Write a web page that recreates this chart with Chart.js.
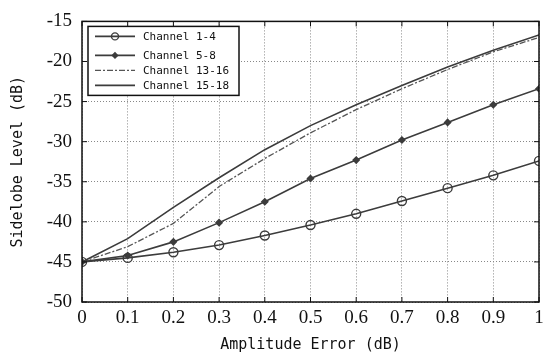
<!DOCTYPE html>
<html>
<head>
<meta charset="utf-8">
<script src="https://cdn.jsdelivr.net/npm/chart.js@4/dist/chart.umd.min.js"></script>
<style>
  html, body { margin:0; padding:0; background:#fff; }
  #wrap { width:550px; height:358px; position:relative; }
</style>
</head>
<body>
<div id="wrap"><canvas id="c"></canvas></div>
<script>
// amplitude error (dB) on x, sidelobe level (dB) on y
const errors = [0, 0.1, 0.2, 0.3, 0.4, 0.5, 0.6, 0.7, 0.8, 0.9, 1]
const xTickLabels = ['0','0.1','0.2','0.3','0.4','0.5','0.6','0.7','0.8','0.9','1']
const yTickLabels = ['-50','-45','-40','-35','-30','-25','-20','-15']

const ch1_4   = [-45, -44.5, -43.8, -42.9, -41.7, -40.4, -39.0, -37.4, -35.8, -34.2, -32.4]
const ch5_8   = [-45, -44.2, -42.5, -40.1, -37.5, -34.6, -32.3, -29.8, -27.6, -25.4, -23.4]
const ch13_16 = [-45, -43.1, -40.2, -35.6, -32.1, -28.9, -26.0, -23.4, -21.0, -18.8, -17.0]
const ch15_18 = [-45, -42.1, -38.2, -34.5, -31.0, -28.0, -25.4, -23.0, -20.7, -18.6, -16.7]

const seriesNames = ['Channel 1-4', 'Channel 5-8', 'Channel 13-16', 'Channel 15-18']

const lineCol = '#3c3c3c'
const pts = arr => arr.map((v,i)=> ({x: errors[i], y: v}))

// frame, inward ticks and legend drawn inside the plot area
const framePlugin = {
  id: 'frame',
  afterDraw(chart){
    const {ctx, chartArea: a, scales} = chart
    ctx.save()
    ctx.strokeStyle = '#111'
    ctx.lineWidth = 1.5
    ctx.strokeRect(a.left, a.top, a.right - a.left, a.bottom - a.top)
    ctx.lineWidth = 1
    errors.forEach(v=>{
      const x = scales.x.getPixelForValue(v)
      ctx.beginPath(); ctx.moveTo(x, a.bottom); ctx.lineTo(x, a.bottom - 5)
      ctx.moveTo(x, a.top); ctx.lineTo(x, a.top + 5); ctx.stroke()
    })
    yTickLabels.forEach(t=>{
      const y = scales.y.getPixelForValue(Number(t))
      ctx.beginPath(); ctx.moveTo(a.left, y); ctx.lineTo(a.left + 5, y)
      ctx.moveTo(a.right, y); ctx.lineTo(a.right - 5, y); ctx.stroke()
    })

    // legend box
    const bx = a.left + 6, by = a.top + 5, bw = 151, bh = 69
    ctx.fillStyle = '#fff'
    ctx.fillRect(bx, by, bw, bh)
    ctx.lineWidth = 1.5
    ctx.strokeStyle = '#111'
    ctx.strokeRect(bx, by, bw, bh)
    const rows = [10, 29, 44, 59]
    const legendRadius = [3.5, 2.5, 0, 0]
    ctx.font = '11px "DejaVu Sans Mono"'
    ctx.textBaseline = 'middle'
    chart.data.datasets.forEach((ds, i)=>{
      const y = by + rows[i]
      ctx.strokeStyle = ds.borderColor
      ctx.lineWidth = ds.borderWidth
      ctx.setLineDash(ds.borderDash || [])
      ctx.beginPath(); ctx.moveTo(bx + 7, y); ctx.lineTo(bx + 47, y); ctx.stroke()
      ctx.setLineDash([])
      if(legendRadius[i] > 0){
        ctx.fillStyle = ds.pointBackgroundColor
        ctx.lineWidth = ds.pointBorderWidth
        ctx.strokeStyle = ds.borderColor
        Chart.helpers.drawPoint(ctx, {pointStyle: ds.pointStyle, radius: legendRadius[i], borderWidth: ds.pointBorderWidth}, bx + 27, y)
      }
      ctx.fillStyle = '#111'
      ctx.fillText(ds.label, bx + 55, y + 1)
    })
    ctx.restore()
  }
}

const ctx = document.getElementById('c').getContext('2d')
new Chart(ctx, {
  type: 'line',
  data: {
    datasets: [
      {label: seriesNames[0], data: pts(ch1_4), borderColor: lineCol, borderWidth: 1.6,
       pointStyle: 'circle', pointRadius: 4.5, pointBorderWidth: 1.4, pointBackgroundColor: 'rgba(255,255,255,0)', pointBorderColor: lineCol},
      {label: seriesNames[1], data: pts(ch5_8), borderColor: lineCol, borderWidth: 1.6,
       pointStyle: 'rectRot', pointRadius: 3, pointBorderWidth: 1.5, pointBackgroundColor: lineCol, pointBorderColor: lineCol},
      {label: seriesNames[2], data: pts(ch13_16), borderColor: '#555', borderWidth: 1.3, borderDash: [6,2,2,2],
       pointRadius: 0},
      {label: seriesNames[3], data: pts(ch15_18), borderColor: lineCol, borderWidth: 1.6,
       pointRadius: 0}
    ]
  },
  options: {
    responsive: true, maintainAspectRatio: false, animation: false,
    layout: { padding: {top: 10, right: 11, left: 0, bottom: 0} },
    plugins: { legend: {display: false}, tooltip: {enabled: false} },
    scales: {
      x: {
        type: 'linear', min: 0, max: 1,
        afterFit: s => { s.height = 56 },
        afterBuildTicks: s => { s.ticks = errors.map(v=> ({value: v})) },
        ticks: { callback: (v, i)=> xTickLabels[i], color: '#111', padding: 5,
                 font: {family: '"Liberation Serif"', size: 19} , maxRotation: 0, autoSkip: false},
        grid: { color: '#888', lineWidth: 1, tickLength: 0, drawTicks: false },
        border: { display: false, dash: [1,2] },
        title: { display: true, text: 'Amplitude Error (dB)', color: '#111',
                 font: {family: '"DejaVu Sans Mono"', size: 15}, padding: {bottom: 4, top: 0} }
      },
      y: {
        type: 'linear', min: -50, max: -15,
        afterFit: s => { s.width = 82 },
        afterBuildTicks: s => { s.ticks = yTickLabels.map(t=> ({value: Number(t)})) },
        ticks: { callback: (v, i)=> yTickLabels[i], color: '#111', padding: 10,
                 font: {family: '"Liberation Serif"', size: 19} },
        grid: { color: '#888', lineWidth: 1, drawTicks: false },
        border: { display: false, dash: [1,2] },
        title: { display: true, text: 'Sidelobe Level (dB)', color: '#111',
                 font: {family: '"DejaVu Sans Mono"', size: 15}, padding: {top: 9, bottom: 0} }
      }
    }
  },
  plugins: [framePlugin]
})
</script>
</body>
</html>
